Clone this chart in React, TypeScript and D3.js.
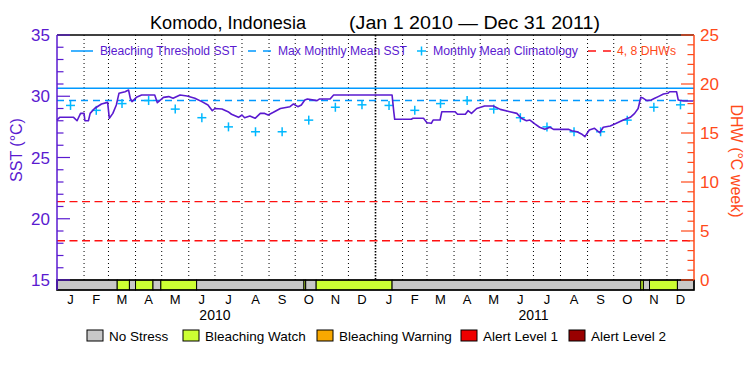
import React from "react";
import * as d3 from "d3";

const monthLetters = ["J", "F", "M", "A", "M", "J", "J", "A", "S", "O", "N", "D"];
const yearLabels = ["2010", "2011"];

// Daily SST (read at breakpoints) : days since Jan 1 2010
const sstDays = [0, 3, 19, 23, 27, 31, 32, 36, 38, 43, 51, 58, 60, 64, 68, 71, 78, 82, 84, 86, 91, 97, 112, 115, 122, 128, 133, 141, 149, 158, 166, 173, 178, 181, 189, 196, 200, 208, 212, 215, 221, 227, 233, 238, 242, 248, 256, 267, 271, 276, 280, 284, 287, 298, 301, 313, 317, 384, 385, 386, 387, 406, 408, 420, 424, 429, 431, 439, 441, 456, 459, 468, 471, 475, 481, 490, 500, 508, 519, 527, 532, 538, 542, 548, 553, 559, 565, 569, 586, 590, 596, 601, 605, 607, 610, 616, 622, 626, 634, 641, 649, 657, 662, 666, 669, 672, 676, 681, 685, 689, 695, 700, 702, 710, 712, 718, 729];
const sstValues = [28.06, 28.28, 28.28, 28.0, 28.6, 28.6, 28.0, 28.0, 28.6, 29.0, 29.37, 29.5, 28.2, 28.6, 29.29, 30.24, 30.37, 30.51, 29.83, 29.56, 29.91, 30.1, 30.1, 29.47, 29.91, 29.97, 29.83, 30.1, 30.02, 29.83, 29.56, 29.29, 28.82, 29.0, 28.96, 28.74, 28.53, 28.28, 28.47, 28.25, 28.39, 28.2, 28.6, 28.6, 28.47, 28.69, 29.0, 29.15, 29.37, 29.15, 29.29, 29.69, 29.78, 29.64, 29.78, 29.78, 30.1, 30.1, 29.4, 28.7, 28.12, 28.12, 28.2, 28.2, 27.84, 27.79, 28.06, 28.06, 28.74, 28.74, 28.53, 28.53, 28.82, 28.6, 29.0, 29.2, 29.2, 28.93, 28.74, 28.6, 28.2, 28.0, 28.06, 27.73, 27.47, 27.3, 27.47, 27.3, 27.3, 27.19, 27.1, 26.92, 26.7, 26.92, 27.24, 27.38, 27.02, 27.47, 27.57, 27.79, 28.06, 28.28, 28.6, 29.0, 29.91, 29.83, 29.64, 29.69, 29.83, 29.97, 30.18, 30.24, 30.37, 30.37, 29.69, 29.61, 29.61];

const climValues = [29.25, 28.85, 29.4, 29.65, 28.95, 28.25, 27.5, 27.1, 27.1, 28.05, 29.1, 29.3];
const bleachingThreshold = 30.65;
const maxMonthlyMean = 29.65;
const dhwLevels = [4, 8];

const stressBounds = [0, 69, 83, 90, 110, 119, 160, 283, 285, 297, 384, 669, 672, 679, 711, 730];
const stressLevels = [0, 1, 0, 1, 0, 1, 0, 1, 0, 1, 0, 1, 0, 1, 0];
const stressNames = ["No Stress", "Bleaching Watch", "Bleaching Warning", "Alert Level 1", "Alert Level 2"];
const stressColors = ["#c8c8c8", "#ccff33", "#f8a800", "#ee0000", "#990000"];

const sstMajor = [15, 20, 25, 30, 35];
const dhwMajor = [0, 5, 10, 15, 20, 25];

const PURPLE = "#5a1ad0";
const ORANGE = "#ff4a1a";
const BLUE = "#0099ff";
const CYAN = "#00b8ff";
const RED = "#ff1010";
const FONT = "'Liberation Sans', Arial, sans-serif";

export default function App() {
  const W = 750, H = 375;
  const L = 57, R = 694, T = 35, B = 280, BB = 290;
  const start = new Date(2010, 0, 1);
  const end = new Date(2012, 0, 1);
  const x = d3.scaleTime().domain([start, end]).range([L, R]);
  const xd = (d: number) => x(d3.timeDay.offset(start, d));
  const yS = d3.scaleLinear().domain([15, 35]).range([B, T]);
  const yD = d3.scaleLinear().domain([0, 25]).range([B, T]);

  const months = d3.timeMonth.range(start, end);
  const monthCenters = months.map((m) => new Date((+m + +d3.timeMonth.offset(m, 1)) / 2));

  const sstPts = sstDays.map((d, i) => [xd(d), yS(sstValues[i])] as [number, number]);
  const line = d3.line()(sstPts) || "";

  const sstMinor = d3.range(15, 36, 1);
  const dhwMinor = d3.range(0, 26, 1);

  const climPts = monthCenters.map((c, i) => ({ cx: x(c), cy: yS(climValues[i % 12]) }));

  const legendX = [87, 183, 317, 461, 569];

  return (
    <svg width={W} height={H} style={{ position: "absolute", left: 0, top: 0, background: "#fff" }} fontFamily={FONT}>
      <rect x={0} y={0} width={W} height={H} fill="#fff" />
      {/* title */}
      <text x={150} y={29} fontSize={18} fill="#000" textLength={156} lengthAdjust="spacingAndGlyphs">Komodo, Indonesia</text>
      <text x={349} y={29} fontSize={18} fill="#000" textLength={251} lengthAdjust="spacingAndGlyphs">(Jan 1 2010 — Dec 31 2011)</text>

      {/* month grid */}
      {months.slice(1).map((m, i) => {
        const isYear = m.getMonth() === 0;
        return (
          <line key={i} x1={x(m)} x2={x(m)} y1={T} y2={B} stroke="#000"
            strokeWidth={isYear ? 1.6 : 1} strokeDasharray={isYear ? "1.5,1.5" : "1,3"} />
        );
      })}

      {/* DHW reference lines */}
      {dhwLevels.map((v) => (
        <line key={v} x1={L} x2={R} y1={yD(v)} y2={yD(v)} stroke={RED} strokeWidth={1.4} strokeDasharray="8,4.5" />
      ))}

      {/* threshold / MMM */}
      <line x1={L} x2={R} y1={yS(bleachingThreshold)} y2={yS(bleachingThreshold)} stroke={BLUE} strokeWidth={1.5} />
      <line x1={L} x2={R} y1={yS(maxMonthlyMean)} y2={yS(maxMonthlyMean)} stroke={BLUE} strokeWidth={1.5} strokeDasharray="7,5" />

      {/* climatology crosses */}
      {climPts.map((p, i) => (
        <g key={i} stroke={CYAN} strokeWidth={1.5}>
          <line x1={p.cx - 4.5} x2={p.cx + 4.5} y1={p.cy} y2={p.cy} />
          <line x1={p.cx} x2={p.cx} y1={p.cy - 4.5} y2={p.cy + 4.5} />
        </g>
      ))}

      {/* SST line */}
      <path d={line} fill="none" stroke={PURPLE} strokeWidth={1.6} strokeLinejoin="round" />

      {/* top frame */}
      <line x1={L} x2={R} y1={T} y2={T} stroke="#000" strokeWidth={1.5} />

      {/* stress bar */}
      {stressLevels.map((lv, i) => (
        <rect key={i} x={xd(stressBounds[i])} y={B} width={xd(stressBounds[i + 1]) - xd(stressBounds[i])} height={BB - B}
          fill={stressColors[lv]} stroke="#000" strokeWidth={1} />
      ))}
      <rect x={L} y={B} width={R - L} height={BB - B} fill="none" stroke="#000" strokeWidth={1.5} />

      {/* left axis */}
      <line x1={L} x2={L} y1={T} y2={BB} stroke={PURPLE} strokeWidth={1.5} />
      {sstMinor.map((v) => (
        <line key={v} x1={L} x2={L + (v % 5 === 0 ? 13 : 6.5)} y1={yS(v)} y2={yS(v)} stroke={PURPLE} strokeWidth={1.2} />
      ))}
      {sstMajor.map((v) => (
        <text key={v} x={50} y={yS(v) + 6} fontSize={17} fill={PURPLE} textAnchor="end">{v}</text>
      ))}
      <text transform={`translate(22,150) rotate(-90)`} fontSize={16} fill={PURPLE} textAnchor="middle">SST (°C)</text>

      {/* right axis */}
      <line x1={R} x2={R} y1={T} y2={B} stroke={ORANGE} strokeWidth={1.5} />
      {dhwMinor.map((v) => (
        <line key={v} x1={R} x2={R - (v % 5 === 0 ? 13 : 6.5)} y1={yD(v)} y2={yD(v)} stroke={ORANGE} strokeWidth={1.2} />
      ))}
      {dhwMajor.map((v) => (
        <text key={v} x={700} y={yD(v) + 6} fontSize={17} fill={ORANGE} textAnchor="start">{v}</text>
      ))}
      <text transform={`translate(731,161) rotate(90)`} fontSize={16} fill={ORANGE} textAnchor="middle">DHW (°C week)</text>

      {/* month labels */}
      {monthCenters.map((c, i) => (
        <text key={i} x={x(c)} y={304} fontSize={13} fill="#000" textAnchor="middle">{monthLetters[i % 12]}</text>
      ))}
      {yearLabels.map((yl, i) => (
        <text key={yl} x={x(new Date(2010 + i, 6, 1))} y={320} fontSize={14} fill="#000" textAnchor="middle">{yl}</text>
      ))}

      {/* top legend */}
      <g fontSize={12}>
        <line x1={71} x2={93} y1={51} y2={51} stroke={BLUE} strokeWidth={1.5} />
        <text x={100} y={55} fill={PURPLE} textLength={137} lengthAdjust="spacingAndGlyphs">Bleaching Threshold SST</text>
        <line x1={248} x2={271} y1={51} y2={51} stroke={BLUE} strokeWidth={1.5} strokeDasharray="8,7" />
        <text x={278} y={55} fill={PURPLE} textLength={129} lengthAdjust="spacingAndGlyphs">Max Monthly Mean SST</text>
        <g stroke={CYAN} strokeWidth={1.5}>
          <line x1={417} x2={426} y1={51} y2={51} />
          <line x1={421.5} x2={421.5} y1={46.5} y2={55.5} />
        </g>
        <text x={433} y={55} fill={PURPLE} textLength={145} lengthAdjust="spacingAndGlyphs">Monthly Mean Climatology</text>
        <line x1={588} x2={612} y1={51} y2={51} stroke={RED} strokeWidth={1.5} strokeDasharray="8,7" />
        <text x={617} y={55} fill={ORANGE} textLength={59} lengthAdjust="spacingAndGlyphs">4, 8 DHWs</text>
      </g>

      {/* bottom legend */}
      {stressNames.map((n, i) => (
        <g key={n}>
          <rect x={legendX[i]} y={330} width={16} height={11} fill={stressColors[i]} stroke="#000" strokeWidth={1} />
          <text x={legendX[i] + 22} y={341} fontSize={13.5} fill="#000">{n}</text>
        </g>
      ))}
    </svg>
  );
}
